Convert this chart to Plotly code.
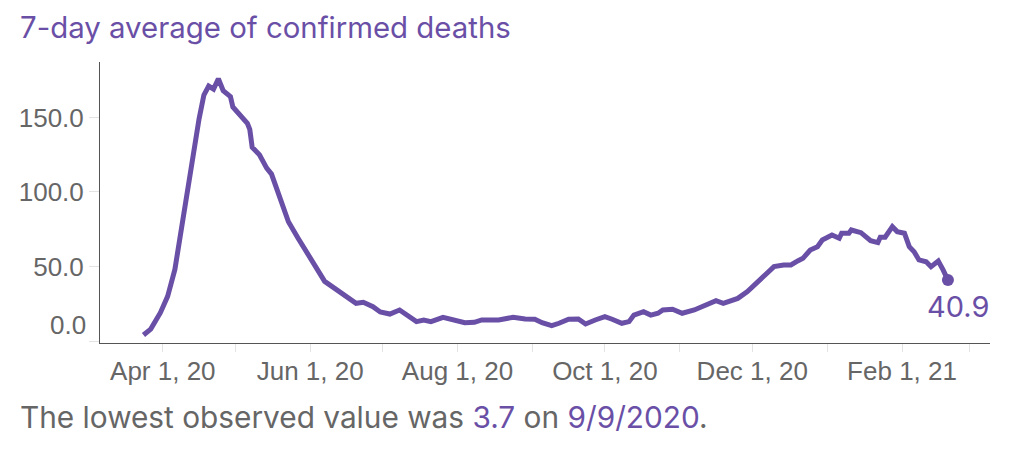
import plotly.graph_objects as go

# ---- data ----
dates = [
    "2020-03-24", "2020-03-27", "2020-03-31", "2020-04-03", "2020-04-06", "2020-04-08",
    "2020-04-10", "2020-04-12", "2020-04-14", "2020-04-16", "2020-04-18", "2020-04-20",
    "2020-04-22", "2020-04-24", "2020-04-26", "2020-04-29", "2020-04-30", "2020-05-03",
    "2020-05-06", "2020-05-07", "2020-05-08", "2020-05-11", "2020-05-14", "2020-05-16",
    "2020-05-19", "2020-05-23", "2020-05-27", "2020-05-31", "2020-06-04", "2020-06-07",
    "2020-06-11", "2020-06-16", "2020-06-20", "2020-06-23", "2020-06-27", "2020-06-30",
    "2020-07-04", "2020-07-08", "2020-07-12", "2020-07-15", "2020-07-18", "2020-07-21",
    "2020-07-26", "2020-07-31", "2020-08-04", "2020-08-08", "2020-08-11", "2020-08-18",
    "2020-08-24", "2020-08-29", "2020-09-02", "2020-09-05", "2020-09-09", "2020-09-12",
    "2020-09-16", "2020-09-20", "2020-09-23", "2020-09-27", "2020-10-01", "2020-10-04",
    "2020-10-08", "2020-10-11", "2020-10-13", "2020-10-17", "2020-10-20", "2020-10-23",
    "2020-10-25", "2020-10-29", "2020-11-02", "2020-11-07", "2020-11-11", "2020-11-16",
    "2020-11-19", "2020-11-25", "2020-11-29", "2020-12-04", "2020-12-08", "2020-12-10",
    "2020-12-14", "2020-12-17", "2020-12-20", "2020-12-22", "2020-12-25", "2020-12-28",
    "2020-12-30", "2021-01-03", "2021-01-06", "2021-01-07", "2021-01-10", "2021-01-11",
    "2021-01-15", "2021-01-17", "2021-01-19", "2021-01-22", "2021-01-23", "2021-01-25",
    "2021-01-28", "2021-01-30", "2021-02-02", "2021-02-04", "2021-02-06", "2021-02-08",
    "2021-02-11", "2021-02-13", "2021-02-16", "2021-02-18", "2021-02-20",
]
deaths_7day = [
    4.0, 8.0, 19.0, 30.0, 48.0, 68.0,
    92.0, 112.0, 132.0, 149.0, 165.0, 171.0,
    169.0, 176.0, 168.0, 164.0, 157.0, 152.0,
    146.0, 142.0, 130.0, 125.0, 116.0, 112.0,
    98.0, 80.0, 69.0, 59.0, 48.0, 40.0,
    35.5, 30.0, 25.3, 26.0, 23.0, 19.5,
    18.1, 20.8, 16.5, 13.0, 14.1, 13.0,
    15.9, 13.6, 12.3, 12.5, 14.1, 14.1,
    15.9, 14.8, 14.6, 12.3, 10.3, 11.9,
    14.6, 14.8, 11.4, 14.1, 16.3, 14.6,
    11.9, 13.0, 17.4, 19.7, 17.4, 18.6,
    20.8, 21.3, 18.6, 20.8, 23.5, 27.0,
    25.3, 28.6, 33.1, 40.9, 46.5, 49.9,
    51.0, 51.0, 53.9, 55.5, 61.0, 63.3,
    67.8, 71.1, 68.9, 72.3, 72.3, 74.5,
    72.7, 70.0, 67.3, 66.0, 69.6, 69.6,
    76.7, 73.4, 72.3, 63.3, 59.9, 54.4,
    53.2, 49.9, 53.7, 47.7, 40.9,
]
y_tick_values = [0, 50, 100, 150]
y_tick_labels = ["0.0", "50.0", "100.0", "150.0"]
title_text = "7-day average of confirmed deaths"
lowest_value = "3.7"
lowest_date = "9/9/2020"
last_label = "40.9"

PURPLE = "#6a4fa6"
GRAY = "#666666"

fig = go.Figure()
fig.add_trace(go.Scatter(
    x=dates, y=deaths_7day, mode="lines",
    line=dict(color=PURPLE, width=5),
    hoverinfo="skip", showlegend=False,
))
fig.add_trace(go.Scatter(
    x=[dates[-1]], y=[deaths_7day[-1]], mode="markers",
    marker=dict(color=PURPLE, size=12),
    hoverinfo="skip", showlegend=False,
))

fig.add_annotation(
    x=dates[-1], y=deaths_7day[-1], xref="x", yref="y",
    text=last_label, showarrow=False, xanchor="center", yanchor="middle",
    xshift=10, yshift=-26,
    font=dict(family="Inter", size=29, color=PURPLE),
)
# flush-positioned bottom y label
fig.add_annotation(
    x=0, y=y_tick_values[0], xref="paper", yref="y",
    text=y_tick_labels[0], showarrow=False, xanchor="right", yanchor="middle",
    xshift=-12, yshift=16,
    font=dict(family="Liberation Sans", size=26, color=GRAY),
)
fig.add_annotation(
    x=-82 / 890, y=-74 / 281, xref="paper", yref="paper",
    text=(f"The lowest observed value was <span style='color:{PURPLE}'>{lowest_value}</span>"
          f" on <span style='color:{PURPLE}'>{lowest_date}</span>."),
    showarrow=False, xanchor="left", yanchor="middle",
    font=dict(family="Inter", size=29.8, color=GRAY),
)

# the page body has an 8px margin, so the figure is offset by 8px
fig.update_layout(
    width=1016, height=452,
    margin=dict(l=92, r=34, t=54, b=117, autoexpand=False),
    paper_bgcolor="white", plot_bgcolor="white",
    title=dict(
        text=title_text, xref="container", yref="container",
        x=12 / 1016, xanchor="left", y=1 - 19.5 / 452, yanchor="middle",
        font=dict(family="Inter", size=29.4, color=PURPLE),
    ),
)
fig.update_xaxes(
    type="date", range=["2020-03-06", "2021-03-09 10:00"],
    tick0="2020-04-01", dtick="M2", tickformat="%b %-d, %y",
    ticks="outside", ticklen=8, tickcolor="#e3e3e3", tickwidth=1,
    ticklabelstandoff=-3,
    minor=dict(dtick="M1", tick0="2020-03-01", ticks="outside", ticklen=8,
               tickcolor="#e3e3e3", tickwidth=1),
    showline=True, linecolor="#555555", linewidth=1,
    showgrid=False, zeroline=False,
    tickfont=dict(family="Liberation Sans", size=26, color=GRAY),
)
fig.update_yaxes(
    range=[-1.34, 187.2],
    tickvals=y_tick_values, ticktext=[""] + y_tick_labels[1:],
    ticks="outside", ticklen=10, tickcolor="#e3e3e3", tickwidth=1,
    showline=True, linecolor="#555555", linewidth=1,
    showgrid=False, zeroline=False,
    tickfont=dict(family="Liberation Sans", size=26, color=GRAY),
)

fig.write_html("out.html")
